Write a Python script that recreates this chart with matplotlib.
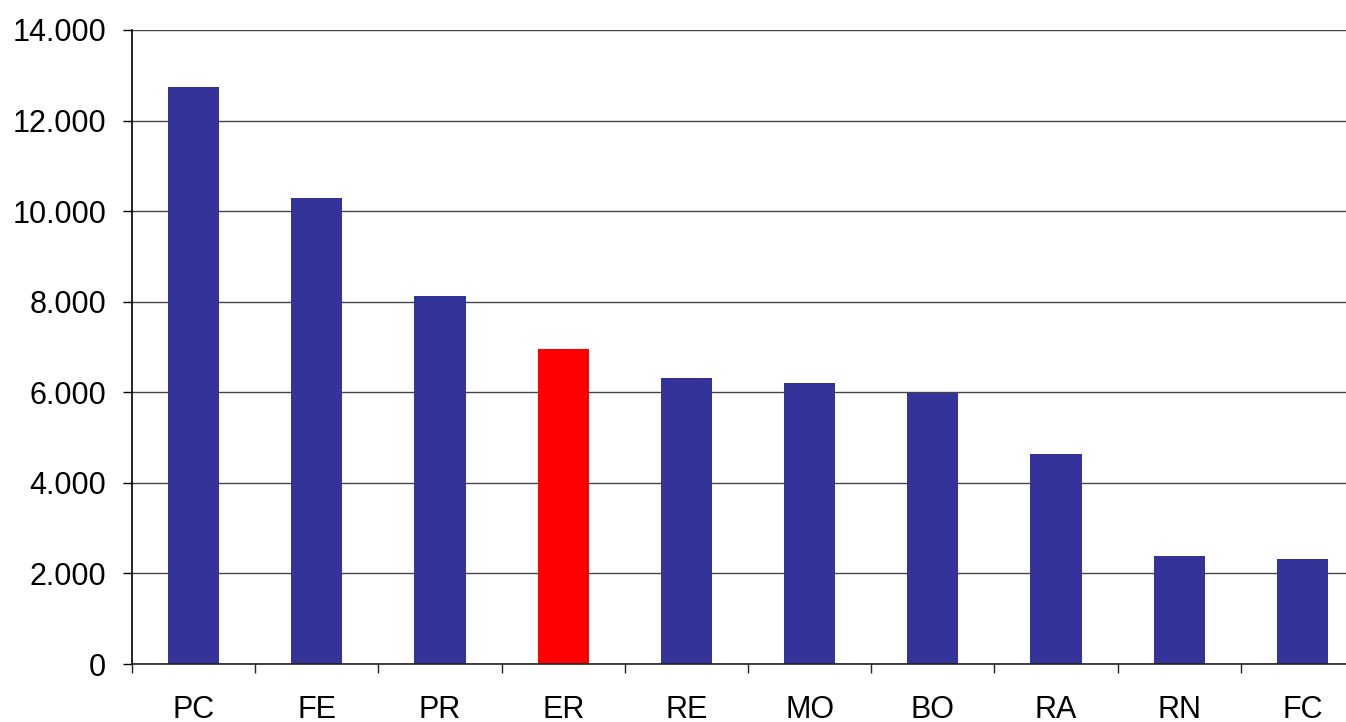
import numpy as np
import matplotlib
matplotlib.use("Agg")
import matplotlib.pyplot as plt
from matplotlib.ticker import FuncFormatter, FixedLocator

categories = ["PC", "FE", "PR", "ER", "RE", "MO", "BO", "RA", "RN", "FC"]
values = [12740, 10290, 8120, 6950, 6325, 6200, 5985, 4645, 2390, 2325]
highlight = "ER"

BLUE = "#333399"
RED = "#FF0000"


def thousands(v, pos):
    # separador de miles con punto
    return "{:,.0f}".format(v).replace(",", ".")


plt.rcParams["font.family"] = ["Liberation Sans", "DejaVu Sans"]

fig = plt.figure(figsize=(13.46, 7.22), dpi=100)
# el area del grafico sigue un poco mas alla del borde derecho
ax = fig.add_axes([132 / 1346, 58 / 722, 1232 / 1346, 634 / 722])

x = np.arange(len(categories))
colors = [RED if c == highlight else BLUE for c in categories]
ax.bar(x, values, width=0.415, color=colors, zorder=3)

ax.set_xlim(-0.5, len(categories) - 0.5)
ax.set_ylim(0, 14000)
ax.set_yticks(np.arange(0, 14001, 2000))
ax.yaxis.set_major_formatter(FuncFormatter(thousands))
ax.yaxis.grid(True, color="#444444", linewidth=1.0, zorder=0)

ax.set_xticks(x)
ax.set_xticklabels(categories)
ax.xaxis.set_minor_locator(FixedLocator(np.arange(-0.5, len(categories), 1.0)))
ax.tick_params(axis="x", which="major", length=0, pad=22, labelsize=22)
ax.tick_params(axis="x", which="minor", length=6.5, width=1.0, direction="out", color="#222222")
ax.tick_params(axis="y", length=6.5, width=1.0, direction="out", pad=12, labelsize=22)

for s in ["top", "right"]:
    ax.spines[s].set_visible(False)
ax.spines["left"].set_color("black")
ax.spines["left"].set_linewidth(1.2)
ax.spines["bottom"].set_color("#222222")
ax.spines["bottom"].set_linewidth(1.2)
ax.spines["left"].set_zorder(4)
ax.spines["bottom"].set_zorder(4)

fig.savefig("out.png", dpi=100)
